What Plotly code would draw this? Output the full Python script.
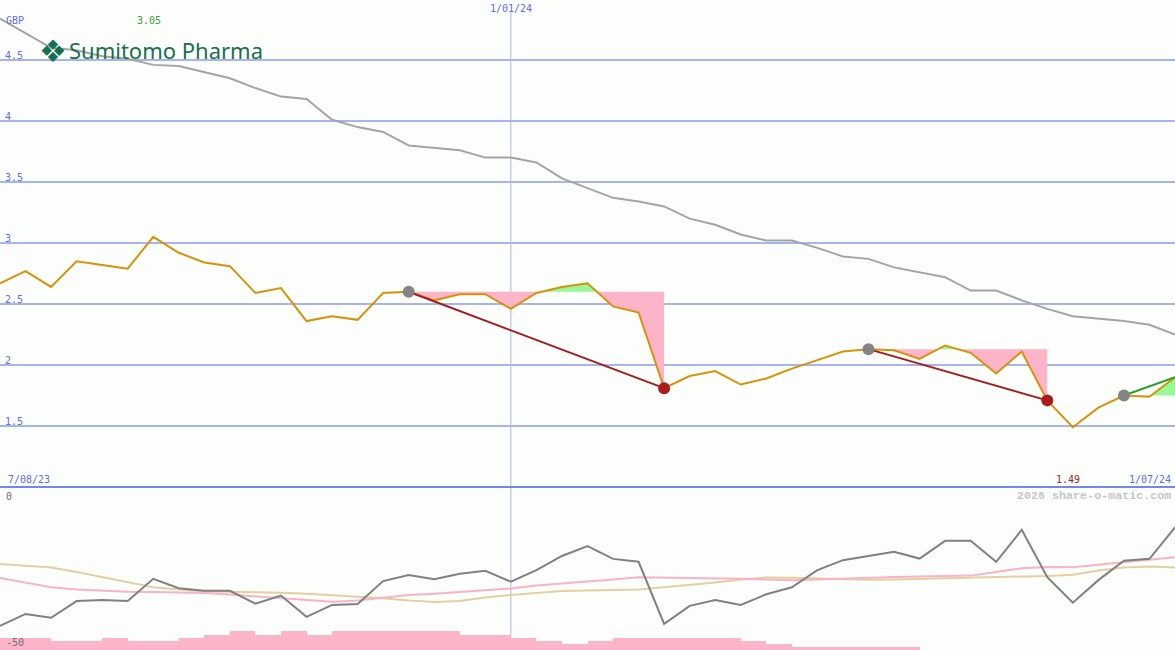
import plotly.graph_objects as go

# ---------------- data (weekly, 7/08/23 .. 1/07/24) ----------------
weeks = list(range(47))
price = [2.67, 2.77, 2.64, 2.85, 2.82, 2.79, 3.05, 2.92, 2.84, 2.81,
         2.59, 2.63, 2.36, 2.40, 2.37, 2.59, 2.60, 2.53, 2.58, 2.58,
         2.46, 2.59, 2.64, 2.67, 2.48, 2.43, 1.81, 1.91, 1.95, 1.84,
         1.89, 1.97, 2.04, 2.11, 2.13, 2.12, 2.05, 2.16, 2.10, 1.93,
         2.11, 1.71, 1.49, 1.65, 1.75, 1.74, 1.90]
long_avg = [4.84, 4.72, 4.60, 4.58, 4.53, 4.51, 4.46, 4.45, 4.40, 4.35,
            4.27, 4.20, 4.18, 4.01, 3.95, 3.91, 3.80, 3.78, 3.76, 3.70,
            3.70, 3.66, 3.53, 3.45, 3.37, 3.34, 3.30, 3.20, 3.15, 3.07,
            3.02, 3.02, 2.96, 2.89, 2.87, 2.80, 2.76, 2.72, 2.61, 2.61,
            2.53, 2.46, 2.40, 2.38, 2.36, 2.33, 2.25]

# oscillator panel
osc = [-42.5, -38.8, -40.0, -34.8, -34.5, -34.8, -27.9, -30.8, -31.6, -31.6,
       -35.6, -33.1, -39.7, -36.0, -35.7, -28.6, -26.7, -28.0, -26.3, -25.4,
       -28.8, -25.2, -20.8, -17.7, -21.7, -22.6, -41.9, -36.3, -34.5, -36.0,
       -32.7, -30.5, -25.2, -22.1, -20.8, -19.5, -21.6, -16.1, -16.1, -22.6,
       -12.7, -27.4, -35.3, -28.3, -22.3, -21.7, -11.9]
osc_pink = [-27.6, -29.0, -30.5, -31.2, -31.6, -31.9, -32.0, -32.1, -32.3, -32.8,
            -33.4, -34.0, -34.6, -35.0, -34.6, -33.7, -32.9, -32.5, -32.0, -31.5,
            -30.9, -30.0, -29.4, -28.9, -28.1, -27.4, -27.5, -27.6, -27.6, -27.9,
            -28.1, -28.3, -28.1, -27.8, -27.6, -27.3, -27.2, -27.0, -26.9, -25.8,
            -24.6, -24.2, -24.3, -23.5, -22.8, -22.1, -21.2]
osc_tan = [-23.3, -23.8, -24.4, -25.8, -27.3, -28.9, -30.5, -31.2, -31.8, -31.9,
           -32.0, -32.2, -32.5, -32.9, -33.3, -33.9, -34.6, -35.1, -34.8, -33.7,
           -32.9, -32.3, -31.7, -31.5, -31.3, -31.2, -30.5, -29.8, -29.0, -28.1,
           -27.5, -27.6, -27.8, -28.2, -28.2, -28.1, -27.9, -27.8, -27.6, -27.4,
           -27.3, -27.0, -26.6, -25.3, -24.4, -24.1, -24.4]
bars = [12, 12, 9, 9, 12, 9, 9, 12, 15, 19,
        15, 19, 15, 19, 19, 19, 19, 19, 15, 15,
        12, 9, 6, 9, 12, 12, 12, 12, 12, 9,
        6, 3, 3, 3, 3, 3]

# trades: entry week, exit week, closed?
trade_entry = [16, 34, 44]
trade_exit = [26, 41, 46]
trade_closed = [True, True, False]

price_ticks = [1.5, 2, 2.5, 3, 3.5, 4, 4.5]
price_tick_text = ["1.5", "2", "2.5", "3", "3.5", "4", "4.5"]
date_labels = ["7/08/23", "1/01/24", "1/07/24"]
date_index = [0, 20, 46]

BG = "#fcfefc"
BLUE_TXT = "#5c6cf2"
MONO = "DejaVu Sans Mono"

fig = go.Figure()

# ---------------- bottom panel ----------------
fig.add_trace(go.Bar(x=[i + 0.5 for i in range(len(bars))], y=bars, width=1.0,
                     marker=dict(color="#fbb4c8", line=dict(width=0)),
                     xaxis="x", yaxis="y3", hoverinfo="skip"))
fig.add_trace(go.Scatter(x=weeks, y=osc_tan, mode="lines", xaxis="x", yaxis="y2",
                         line=dict(color="#e4cfa0", width=2)))
fig.add_trace(go.Scatter(x=weeks, y=osc_pink, mode="lines", xaxis="x", yaxis="y2",
                         line=dict(color="#f9b2c8", width=2)))
fig.add_trace(go.Scatter(x=weeks, y=osc, mode="lines", xaxis="x", yaxis="y2",
                         line=dict(color="#808080", width=2)))

# ---------------- trade fills ----------------
def trade_path(e, x_end):
    ref = price[e]
    xs, ys = [], []
    for i in range(e, x_end):
        xs.append(i)
        ys.append(price[i])
        a, b = price[i] - ref, price[i + 1] - ref
        if a * b < 0:
            t = (ref - price[i]) / (price[i + 1] - price[i])
            xs.append(i + t)
            ys.append(ref)
    xs.append(x_end)
    ys.append(price[x_end])
    return ref, xs, ys

for e, x_end in zip(trade_entry, trade_exit):
    ref, xs, ys = trade_path(e, x_end)
    low = [min(v, ref) for v in ys]
    high = [max(v, ref) for v in ys]
    back = [ref] * len(xs)
    fig.add_trace(go.Scatter(x=xs + xs[::-1], y=low + back, fill="toself", mode="none",
                             fillcolor="#fbb4c8", xaxis="x", yaxis="y", hoverinfo="skip"))
    fig.add_trace(go.Scatter(x=xs + xs[::-1], y=high + back, fill="toself", mode="none",
                             fillcolor="#98f898", xaxis="x", yaxis="y", hoverinfo="skip"))

# ---------------- price panel lines ----------------
fig.add_trace(go.Scatter(x=weeks, y=long_avg, mode="lines", xaxis="x", yaxis="y",
                         line=dict(color="#a4a4a4", width=2)))
fig.add_trace(go.Scatter(x=weeks, y=price, mode="lines", xaxis="x", yaxis="y",
                         line=dict(color="#d8920a", width=2)))

for e, x_end, closed in zip(trade_entry, trade_exit, trade_closed):
    col = "#a41c1c" if closed else "#2a9e2a"
    fig.add_trace(go.Scatter(x=[e, x_end], y=[price[e], price[x_end]], mode="lines",
                             xaxis="x", yaxis="y", line=dict(color=col, width=2)))
    fig.add_trace(go.Scatter(x=[e], y=[price[e]], mode="markers", xaxis="x", yaxis="y",
                             marker=dict(color="#848484", size=12, line=dict(width=0))))
    if closed:
        fig.add_trace(go.Scatter(x=[x_end], y=[price[x_end]], mode="markers", xaxis="x",
                                 yaxis="y", marker=dict(color="#a81e1e", size=12,
                                                        line=dict(width=0))))

# ---------------- annotations ----------------
def py(px):
    return 1 - px / 650.0

def pxx(px):
    return px / 1175.0

imax = price.index(max(price))
imin = price.index(min(price))
ann = []
ann.append(dict(text="GBP", x=0, xref="paper", xanchor="left", xshift=4,
                y=py(20), yref="paper", yanchor="middle", showarrow=False,
                font=dict(family=MONO, size=10, color=BLUE_TXT)))
ann.append(dict(text=f"{max(price):.2f}", x=imax, xref="x", xanchor="center", xshift=-4,
                y=py(21), yref="paper", yanchor="middle", showarrow=False,
                font=dict(family=MONO, size=10, color="#3aa03a")))
ann.append(dict(text=f"{min(price):.2f}", x=imin, xref="x", xanchor="center", xshift=-5,
                y=py(479), yref="paper", yanchor="middle", showarrow=False,
                font=dict(family=MONO, size=10, color="#a82020")))
ann.append(dict(text=date_labels[0], x=date_index[0], xref="x", xanchor="left", xshift=6,
                y=py(479), yref="paper", yanchor="middle", showarrow=False,
                font=dict(family=MONO, size=10, color=BLUE_TXT)))
ann.append(dict(text=date_labels[2], x=date_index[2], xref="x", xanchor="right", xshift=-2,
                y=py(479), yref="paper", yanchor="middle", showarrow=False,
                font=dict(family=MONO, size=10, color=BLUE_TXT)))
ann.append(dict(text=date_labels[1], x=date_index[1], xref="x", xanchor="center",
                y=py(8), yref="paper", yanchor="middle", showarrow=False,
                font=dict(family=MONO, size=10, color=BLUE_TXT)))
ann.append(dict(text="0", x=0, xref="paper", xanchor="left", xshift=4,
                y=py(496), yref="paper", yanchor="middle", showarrow=False,
                font=dict(family=MONO, size=10, color="#707070")))
ann.append(dict(text="-50", x=0, xref="paper", xanchor="left", xshift=4,
                y=py(642), yref="paper", yanchor="middle", showarrow=False,
                font=dict(family=MONO, size=10, color="#707070")))
ann.append(dict(text="<b>2026 share-o-matic.com</b>", x=1, xref="paper", xanchor="right",
                xshift=-2, y=py(496), yref="paper", yanchor="middle", showarrow=False,
                font=dict(family="Liberation Mono", size=11.7, color="#c6c6c6")))
# logo (emblem + name)
ann.append(dict(text="❖", x=pxx(53), xref="paper", xanchor="center",
                y=py(51), yref="paper", yanchor="middle", showarrow=False,
                font=dict(family="DejaVu Sans", size=31, color="#15704e")))
ann.append(dict(text="Sumitomo Pharma", x=pxx(166), xref="paper", xanchor="center",
                y=py(50), yref="paper", yanchor="middle", showarrow=False,
                font=dict(family="Noto Sans", size=22, color="#15704e")))

shapes = [
    # white backing of the logo (hides the grid line, stays under the traces)
    dict(type="rect", xref="paper", x0=pxx(35), x1=pxx(268), yref="paper",
         y0=py(64), y1=py(38), fillcolor="white", line=dict(width=0), layer="between"),
    dict(type="line", xref="paper", x0=0, x1=1, yref="y", y0=1.0, y1=1.0,
         line=dict(color="#7684f0", width=2)),
    dict(type="line", xref="x", x0=date_index[1], x1=date_index[1], yref="paper",
         y0=0, y1=py(12), line=dict(color="#b0b6e4", width=1), layer="below"),
]

fig.update_layout(
    width=1175, height=650, margin=dict(l=0, r=0, t=0, b=0, pad=0),
    paper_bgcolor=BG, plot_bgcolor=BG, showlegend=False,
    annotations=ann, shapes=shapes, bargap=0,
    xaxis=dict(range=[0, 46], domain=[0, 1], showgrid=False, zeroline=False,
               showticklabels=False, ticks="", showline=False, fixedrange=True),
    yaxis=dict(domain=[py(489), 1], range=[0.9836, 4.9918], tickvals=price_ticks,
               ticktext=price_tick_text, showgrid=True, gridcolor="#a6b4f2", gridwidth=2,
               zeroline=False, ticks="", showline=False, ticklabelposition="inside top",
               ticklabelshift=2, ticklabelstandoff=2,
               tickfont=dict(family=MONO, size=10, color=BLUE_TXT), anchor="x"),
    yaxis2=dict(domain=[0, py(489)], range=[-50, 0], showgrid=False, zeroline=False,
                showticklabels=False, ticks="", showline=False, anchor="x"),
    yaxis3=dict(overlaying="y2", range=[0, 161], showgrid=False, zeroline=False,
                showticklabels=False, ticks="", showline=False, anchor="x"),
)

fig.write_html(
    "out.html",
    config={"displayModeBar": False},
    post_script="document.body.style.margin='0px';document.body.style.padding='0px';"
                "document.body.style.overflow='hidden';",
)
